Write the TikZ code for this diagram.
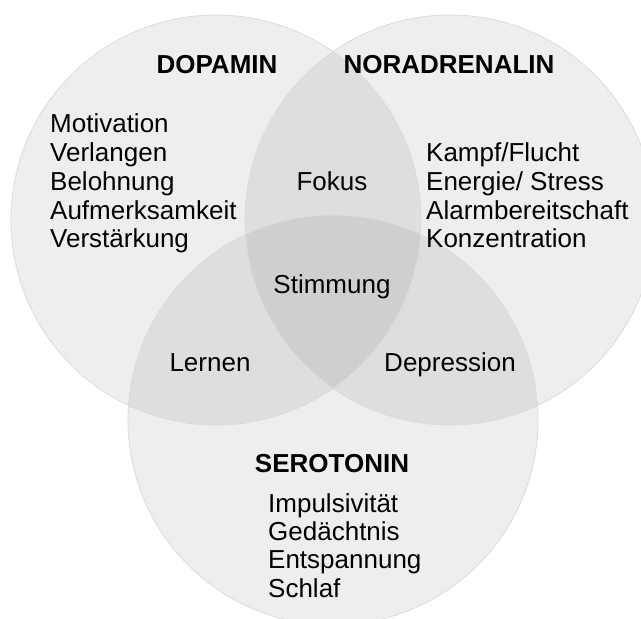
\documentclass[tikz,border=0pt]{standalone}
\usepackage{fontspec}
\setmainfont{Liberation Sans}
\begin{document}
\begin{tikzpicture}[x=1pt,y=-1pt,
  area/.style={fill=black, fill opacity=0.065},
  ring/.style={draw=black!14, line width=0.8pt},
  lbl/.style={font=\fontsize{26}{30}\selectfont, inner sep=0pt, text=black},
  ttl/.style={font=\fontsize{26}{30}\selectfont\bfseries, inner sep=0pt, text=black}]
\useasboundingbox (0,0) rectangle (641,619);
\fill[white] (0,0) rectangle (641,619);
% circles
\coordinate (cd) at (216,220);
\coordinate (cn) at (450,220);
\coordinate (cs) at (333,420);
\fill[area] (cd) circle[radius=205pt];
\fill[area] (cn) circle[radius=205pt];
\fill[area] (cs) circle[radius=205pt];
\draw[ring] (cd) circle[radius=205pt];
\draw[ring] (cn) circle[radius=205pt];
\draw[ring] (cs) circle[radius=205pt];
% titles
\node[ttl, anchor=base] (tdop) at (217,73) {DOPAMIN};
\node[ttl, anchor=base] (tnor) at (449,73) {NORADRENALIN};
\node[ttl, anchor=base] (tser) at (332,472) {SEROTONIN};
% dopamin list
\node[lbl, anchor=base west] (d1) at (50,132) {Motivation};
\node[lbl, anchor=base west] (d2) at (50,161) {Verlangen};
\node[lbl, anchor=base west] (d3) at (50,190) {Belohnung};
\node[lbl, anchor=base west] (d4) at (50,219) {Aufmerksamkeit};
\node[lbl, anchor=base west] (d5) at (50,247) {Verstärkung};
% noradrenalin list
\node[lbl, anchor=base west] (n1) at (426,161) {Kampf/Flucht};
\node[lbl, anchor=base west] (n2) at (426,190) {Energie/ Stress};
\node[lbl, anchor=base west] (n3) at (426,219) {Alarmbereitschaft};
\node[lbl, anchor=base west] (n4) at (426,247) {Konzentration};
% serotonin list
\node[lbl, anchor=base west] (s1) at (268,512) {Impulsivität};
\node[lbl, anchor=base west] (s2) at (268,540) {Gedächtnis};
\node[lbl, anchor=base west] (s3) at (268,568) {Entspannung};
\node[lbl, anchor=base west] (s4) at (268,597) {Schlaf};
% overlaps
\node[lbl, anchor=base] (fok) at (332,190) {Fokus};
\node[lbl, anchor=base] (sti) at (332,293) {Stimmung};
\node[lbl, anchor=base] (ler) at (210,371) {Lernen};
\node[lbl, anchor=base] (dep) at (450,371) {Depression};
\end{tikzpicture}
\end{document}
